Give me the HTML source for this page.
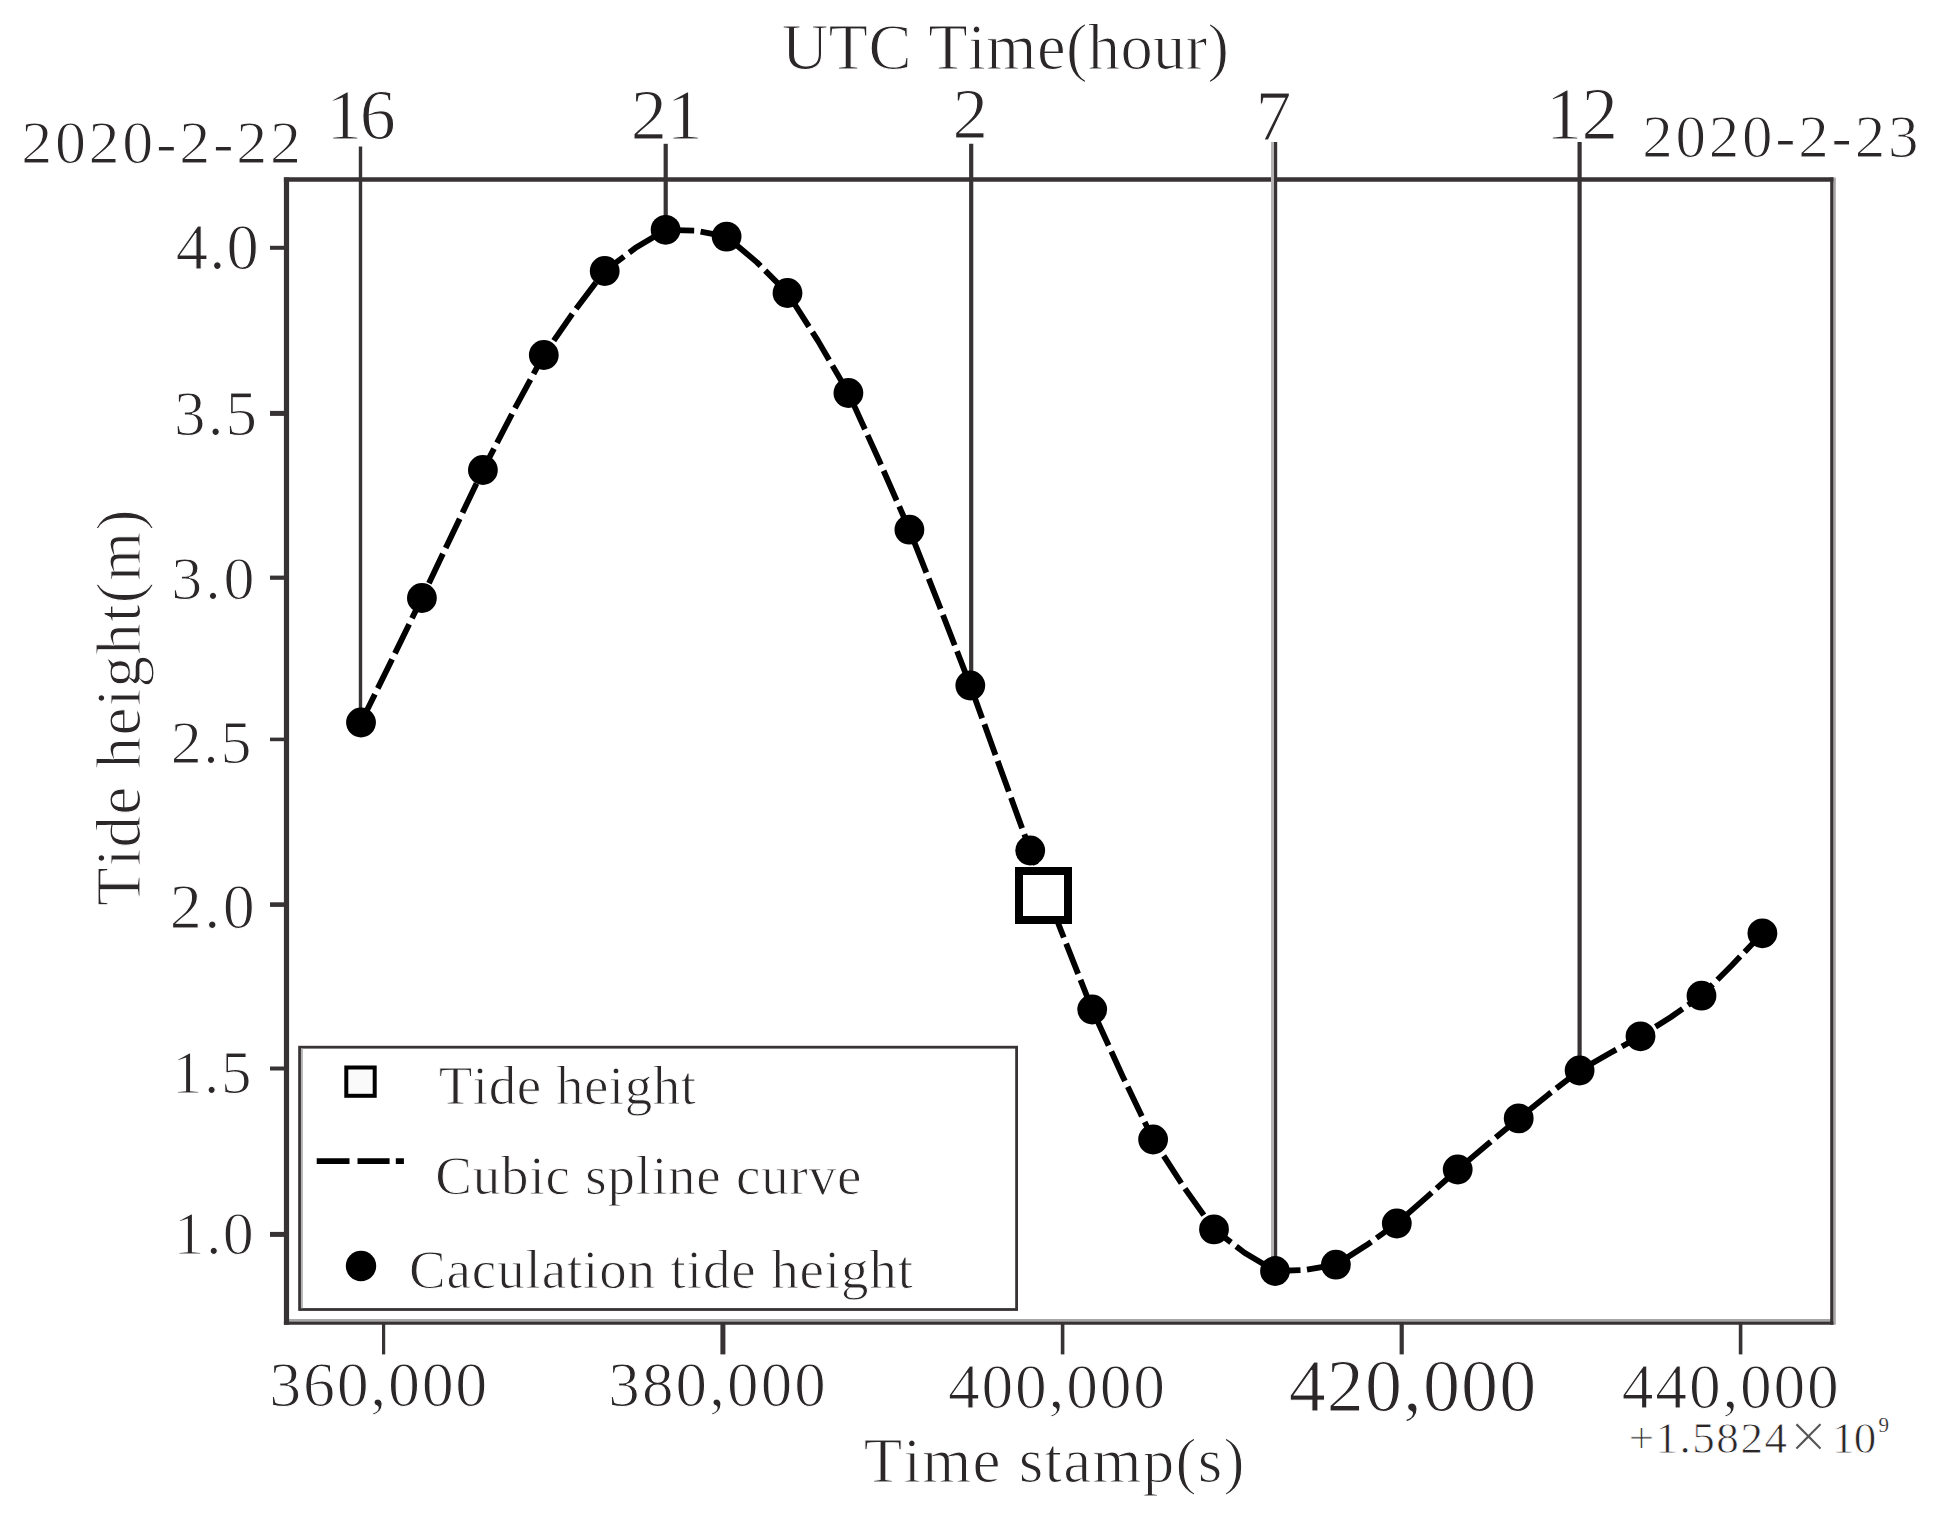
<!DOCTYPE html>
<html lang="en"><head><meta charset="utf-8"><title>Tide height – cubic spline</title>
<style>html,body{margin:0;padding:0;background:#fff}body{width:1941px;height:1522px;overflow:hidden}svg{display:block}text{font-family:"Liberation Serif","Noto Serif CJK SC",serif;fill:#2b2728;font-kerning:none;white-space:pre;stroke:#fff;stroke-width:1.1px;paint-order:fill stroke}</style></head><body>
<svg width="1941" height="1522" viewBox="0 0 1941 1522">
<rect width="1941" height="1522" fill="#fff"/>
<line x1="288" x2="1833" y1="1320.2" y2="1320.2" stroke="#a8a6a6" stroke-width="2.6"/>
<line x1="1834.6" x2="1834.6" y1="177.4" y2="1324.8" stroke="#a8a6a6" stroke-width="2.4"/>
<line x1="286.5" x2="286.5" y1="177.4" y2="1324.8" stroke="#373233" stroke-width="5.2"/>
<line x1="283.9" x2="1833.4" y1="179.5" y2="179.5" stroke="#373233" stroke-width="4.3"/>
<line x1="1831.8" x2="1831.8" y1="177.4" y2="1324.8" stroke="#373233" stroke-width="3.2"/>
<line x1="283.9" x2="1833.4" y1="1323.1" y2="1323.1" stroke="#373233" stroke-width="3.4"/>
<line x1="270" x2="286.5" y1="247.8" y2="247.8" stroke="#373233" stroke-width="4"/>
<line x1="270" x2="286.5" y1="413.4" y2="413.4" stroke="#373233" stroke-width="5"/>
<line x1="270" x2="286.5" y1="577.7" y2="577.7" stroke="#373233" stroke-width="4.2"/>
<line x1="270" x2="286.5" y1="739.4" y2="739.4" stroke="#373233" stroke-width="3.6"/>
<line x1="270" x2="286.5" y1="904.6" y2="904.6" stroke="#373233" stroke-width="4.6"/>
<line x1="270" x2="286.5" y1="1068.5" y2="1068.5" stroke="#373233" stroke-width="4"/>
<line x1="270" x2="286.5" y1="1234.4" y2="1234.4" stroke="#373233" stroke-width="5"/>
<line x1="383.6" x2="383.6" y1="1322.6" y2="1354.4" stroke="#373233" stroke-width="3.2"/>
<line x1="722.9" x2="722.9" y1="1322.6" y2="1354.4" stroke="#373233" stroke-width="5"/>
<line x1="1062.6" x2="1062.6" y1="1322.6" y2="1354.4" stroke="#373233" stroke-width="3.6"/>
<line x1="1401.7" x2="1401.7" y1="1322.6" y2="1354.4" stroke="#373233" stroke-width="4.2"/>
<line x1="1740.6" x2="1740.6" y1="1322.6" y2="1354.4" stroke="#373233" stroke-width="3.6"/>
<line x1="1272.5" x2="1272.5" y1="142" y2="1260" stroke="#b4b2b2" stroke-width="3"/>
<line x1="360.5" x2="360.5" y1="146.5" y2="722.5" stroke="#373233" stroke-width="3.4"/>
<line x1="665.7" x2="665.7" y1="143.8" y2="229.8" stroke="#373233" stroke-width="4.2"/>
<line x1="971.2" x2="971.2" y1="143.8" y2="685.5" stroke="#373233" stroke-width="4.2"/>
<line x1="1275.6" x2="1275.6" y1="142" y2="1271" stroke="#373233" stroke-width="3.2"/>
<line x1="1579.6" x2="1579.6" y1="142" y2="1070.5" stroke="#373233" stroke-width="4.2"/>
<path d="M361.0,722.5 L391.5,660.5 L421.9,598.0 L452.4,533.9 L482.9,470.0 L513.3,411.4 L543.8,355.0 L574.3,311.1 L604.7,271.0 L635.2,248.1 L665.6,229.8 L696.1,230.7 L726.6,236.6 L757.0,262.4 L787.5,293.0 L818.0,340.9 L848.4,393.0 L878.9,460.0 L909.4,529.7 L939.8,606.8 L970.3,685.5 L1000.2,767.9 L1030.2,850.5 L1061.2,931.0 L1092.2,1009.5 L1122.6,1076.2 L1153.1,1139.5 L1183.6,1186.7 L1214.0,1229.4 L1244.5,1252.7 L1275.0,1271.0 L1305.4,1270.0 L1335.9,1264.7 L1366.3,1245.3 L1396.8,1223.5 L1427.3,1196.6 L1457.7,1169.5 L1488.2,1143.8 L1518.7,1118.4 L1549.1,1093.9 L1579.6,1070.5 L1610.1,1053.0 L1640.5,1036.3 L1671.0,1017.0 L1701.5,995.7 L1731.9,965.3 L1762.4,933.3" fill="none" stroke="#000" stroke-width="5.8" stroke-linejoin="round" stroke-dasharray="32.5 6.5" stroke-dashoffset="1"/>
<circle cx="361.0" cy="722.5" r="14.9" fill="#000"/>
<circle cx="421.9" cy="598.0" r="14.9" fill="#000"/>
<circle cx="482.9" cy="470.0" r="14.9" fill="#000"/>
<circle cx="543.8" cy="355.0" r="14.9" fill="#000"/>
<circle cx="604.7" cy="271.0" r="14.9" fill="#000"/>
<circle cx="665.6" cy="229.8" r="14.9" fill="#000"/>
<circle cx="726.6" cy="236.6" r="14.9" fill="#000"/>
<circle cx="787.5" cy="293.0" r="14.9" fill="#000"/>
<circle cx="848.4" cy="393.0" r="14.9" fill="#000"/>
<circle cx="909.4" cy="529.7" r="14.9" fill="#000"/>
<circle cx="970.3" cy="685.5" r="14.9" fill="#000"/>
<circle cx="1030.2" cy="850.5" r="14.9" fill="#000"/>
<circle cx="1092.2" cy="1009.5" r="14.9" fill="#000"/>
<circle cx="1153.1" cy="1139.5" r="14.9" fill="#000"/>
<circle cx="1214.0" cy="1229.4" r="14.9" fill="#000"/>
<circle cx="1275.0" cy="1271.0" r="14.9" fill="#000"/>
<circle cx="1335.9" cy="1264.7" r="14.9" fill="#000"/>
<circle cx="1396.8" cy="1223.5" r="14.9" fill="#000"/>
<circle cx="1457.7" cy="1169.5" r="14.9" fill="#000"/>
<circle cx="1518.7" cy="1118.4" r="14.9" fill="#000"/>
<circle cx="1579.6" cy="1070.5" r="14.9" fill="#000"/>
<circle cx="1640.5" cy="1036.3" r="14.9" fill="#000"/>
<circle cx="1701.5" cy="995.7" r="14.9" fill="#000"/>
<circle cx="1762.4" cy="933.3" r="14.9" fill="#000"/>
<rect x="1019" y="871" width="49" height="49" fill="#fff" stroke="#000" stroke-width="8"/>
<rect x="299.6" y="1047.2" width="717" height="262.3" fill="#fff" stroke="#373233" stroke-width="2.8"/>
<line x1="301.9" x2="301.9" y1="1048.6" y2="1308.2" stroke="#b4b2b2" stroke-width="2"/>
<rect x="346.3" y="1067.5" width="28.4" height="28.3" fill="#fafafa" stroke="#000" stroke-width="4"/>
<line x1="316.7" x2="403.9" y1="1161.1" y2="1161.1" stroke="#000" stroke-width="5.7" stroke-dasharray="32.8 8 32.1 6.2 8.1 50"/>
<circle cx="361" cy="1266" r="15.2" fill="#000"/>
<text x="438.71" y="1104.00" font-size="55" letter-spacing="0.530" style="stroke-width:0.95px">Tide height</text>
<text x="435.34" y="1193.60" font-size="55" letter-spacing="0.804" style="stroke-width:0.95px">Cubic spline curve</text>
<text x="409.04" y="1287.90" font-size="55" letter-spacing="0.870" style="stroke-width:0.95px">Caculation tide height</text>
<text x="781.65" y="69.30" font-size="64.5" letter-spacing="0.381">UTC Time(hour)</text>
<text x="21.28" y="162.60" font-size="62" letter-spacing="2.669">2020-2-22</text>
<text x="1642.32" y="157.30" font-size="61" letter-spacing="2.742">2020-2-23</text>
<text x="326.17" y="139.30" font-size="72" letter-spacing="-2.327">16</text>
<text x="630.81" y="138.60" font-size="72.5" letter-spacing="-0.460">21</text>
<text x="952.38" y="138.40" font-size="71" letter-spacing="0.000">2</text>
<text x="1255.45" y="139.60" font-size="72" letter-spacing="0.000">7</text>
<text x="1545.78" y="139.00" font-size="73" letter-spacing="-0.756">12</text>
<text x="175.74" y="268.80" font-size="64.5" letter-spacing="1.146">4.0</text>
<text x="173.99" y="434.60" font-size="63" letter-spacing="2.163">3.5</text>
<text x="171.23" y="599.00" font-size="62" letter-spacing="2.914">3.0</text>
<text x="170.68" y="763.10" font-size="62" letter-spacing="1.623">2.5</text>
<text x="169.79" y="928.30" font-size="64" letter-spacing="2.425">2.0</text>
<text x="171.94" y="1092.60" font-size="61" letter-spacing="1.597">1.5</text>
<text x="173.45" y="1254.20" font-size="62" letter-spacing="1.455">1.0</text>
<text x="269.34" y="1406.00" font-size="64" letter-spacing="1.667">360,000</text>
<text x="608.29" y="1406.20" font-size="63" letter-spacing="2.127">380,000</text>
<text x="948.06" y="1407.60" font-size="63.5" letter-spacing="1.764">400,000</text>
<text x="1288.65" y="1410.90" font-size="74" letter-spacing="1.194">420,000</text>
<text x="1621.86" y="1407.80" font-size="63.5" letter-spacing="1.764">440,000</text>
<text x="863.66" y="1482.40" font-size="63" letter-spacing="1.270">Time stamp(s)</text>
<text transform="translate(139.9,906.04) rotate(-90)" font-size="63" letter-spacing="1.290">Tide height(m)</text>
<text x="1628.66" y="1453.20" font-size="45" letter-spacing="1.519" style="stroke-width:0.77px">+1.5824</text>
<text x="1789.39" y="1458.5" font-size="67.1" style="fill:#555">×</text>
<text x="1832.04" y="1453.20" font-size="45" letter-spacing="-0.731" style="stroke-width:0.77px">10</text>
<text x="1878.52" y="1432.00" font-size="21" letter-spacing="0.000" style="stroke-width:0.2px">9</text>
</svg></body></html>
